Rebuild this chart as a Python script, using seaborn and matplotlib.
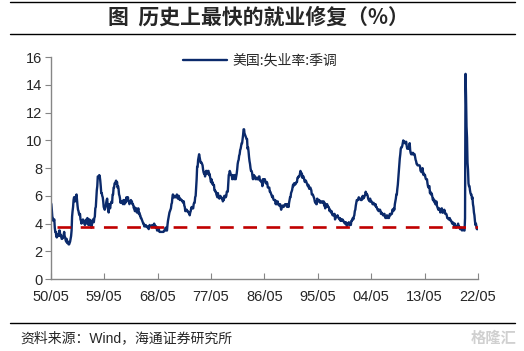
import numpy as np
import pandas as pd
import matplotlib.pyplot as plt
import seaborn as sns
from matplotlib.lines import Line2D

# 美国:失业率:季调 (%), monthly, 1950/05 - 2022/05
u1950s = [5.5, 5.4, 5.0, 4.5, 4.4, 4.2, 4.2, 4.3,
          3.7, 3.4, 3.4, 3.1, 3.0, 3.2, 3.1, 3.1, 3.3, 3.5, 3.5, 3.1,
          3.2, 3.1, 2.9, 2.9, 3.0, 3.0, 3.2, 3.4, 3.1, 3.0, 2.8, 2.7,
          2.9, 2.6, 2.6, 2.7, 2.5, 2.5, 2.6, 2.7, 2.9, 3.1, 3.5, 4.5,
          4.9, 5.2, 5.7, 5.9, 5.9, 5.6, 5.8, 6.0, 6.1, 5.7, 5.3, 5.0,
          4.9, 4.7, 4.6, 4.7, 4.3, 4.2, 4.0, 4.2, 4.1, 4.3, 4.2, 4.2,
          4.0, 3.9, 4.2, 4.0, 4.3, 4.3, 4.4, 4.1, 3.9, 3.9, 4.3, 4.2,
          4.2, 3.9, 3.7, 3.9, 4.1, 4.3, 4.2, 4.1, 4.4, 4.5, 5.1, 5.2,
          5.8, 6.4, 6.7, 7.4, 7.4, 7.3, 7.5, 7.4, 7.1, 6.7, 6.2, 6.2,
          6.0, 5.9, 5.6, 5.2, 5.1, 5.0, 5.1, 5.2, 5.5, 5.7, 5.8, 5.3]
u1960s = [5.2, 4.8, 5.4, 5.2, 5.1, 5.4, 5.5, 5.6, 5.5, 6.1, 6.1, 6.6,
          6.6, 6.9, 6.9, 7.0, 7.1, 6.9, 7.0, 6.6, 6.7, 6.5, 6.1, 6.0,
          5.8, 5.5, 5.6, 5.6, 5.5, 5.5, 5.4, 5.7, 5.6, 5.4, 5.7, 5.5,
          5.7, 5.9, 5.7, 5.7, 5.9, 5.6, 5.6, 5.4, 5.5, 5.5, 5.7, 5.5,
          5.6, 5.4, 5.4, 5.3, 5.1, 5.2, 4.9, 5.0, 5.1, 5.1, 4.8, 5.0,
          4.9, 5.1, 4.7, 4.8, 4.6, 4.6, 4.4, 4.4, 4.3, 4.2, 4.1, 4.0,
          4.0, 3.8, 3.8, 3.8, 3.9, 3.8, 3.8, 3.8, 3.7, 3.7, 3.6, 3.8,
          3.9, 3.8, 3.8, 3.8, 3.8, 3.9, 3.8, 3.8, 3.8, 4.0, 3.9, 3.8,
          3.7, 3.8, 3.7, 3.5, 3.5, 3.7, 3.7, 3.5, 3.4, 3.4, 3.4, 3.4,
          3.4, 3.4, 3.4, 3.4, 3.4, 3.5, 3.5, 3.5, 3.7, 3.7, 3.5, 3.5]
u1970s = [3.9, 4.2, 4.4, 4.6, 4.8, 4.9, 5.0, 5.1, 5.4, 5.5, 5.9, 6.1,
          5.9, 5.9, 6.0, 5.9, 5.9, 5.9, 6.0, 6.1, 6.0, 5.8, 6.0, 6.0,
          5.8, 5.7, 5.8, 5.7, 5.7, 5.7, 5.6, 5.6, 5.5, 5.6, 5.3, 5.2,
          4.9, 5.0, 4.9, 5.0, 4.9, 4.9, 4.8, 4.8, 4.8, 4.6, 4.8, 4.9,
          5.1, 5.2, 5.1, 5.1, 5.1, 5.4, 5.5, 5.5, 5.9, 6.0, 6.6, 7.2,
          8.1, 8.1, 8.6, 8.8, 9.0, 8.8, 8.6, 8.4, 8.4, 8.4, 8.3, 8.2,
          7.9, 7.7, 7.6, 7.7, 7.4, 7.6, 7.8, 7.8, 7.6, 7.7, 7.8, 7.8,
          7.5, 7.6, 7.4, 7.2, 7.0, 7.2, 6.9, 7.0, 6.8, 6.8, 6.8, 6.4,
          6.4, 6.3, 6.3, 6.1, 6.0, 5.9, 6.2, 5.9, 6.0, 5.8, 5.9, 6.0,
          5.9, 5.9, 5.8, 5.8, 5.6, 5.7, 5.7, 6.0, 5.9, 6.0, 5.9, 6.0]
u1980s = [6.3, 6.3, 6.3, 6.9, 7.5, 7.6, 7.8, 7.7, 7.5, 7.5, 7.5, 7.2,
          7.5, 7.4, 7.4, 7.2, 7.5, 7.5, 7.2, 7.4, 7.6, 7.9, 8.3, 8.5,
          8.6, 8.9, 9.0, 9.3, 9.4, 9.6, 9.8, 9.8, 10.1, 10.4, 10.8, 10.8,
          10.4, 10.4, 10.3, 10.2, 10.1, 10.1, 9.4, 9.5, 9.2, 8.8, 8.5, 8.3,
          8.0, 7.8, 7.8, 7.7, 7.4, 7.2, 7.5, 7.5, 7.3, 7.4, 7.2, 7.3,
          7.3, 7.2, 7.2, 7.3, 7.2, 7.4, 7.4, 7.1, 7.1, 7.1, 7.0, 7.0,
          6.7, 7.2, 7.2, 7.1, 7.2, 7.2, 7.0, 6.9, 7.0, 7.0, 6.9, 6.6,
          6.6, 6.6, 6.6, 6.3, 6.3, 6.2, 6.1, 6.0, 5.9, 6.0, 5.8, 5.7,
          5.7, 5.7, 5.7, 5.4, 5.6, 5.4, 5.4, 5.6, 5.4, 5.4, 5.3, 5.3,
          5.4, 5.2, 5.0, 5.2, 5.2, 5.3, 5.2, 5.2, 5.3, 5.3, 5.4, 5.4]
u1990s = [5.4, 5.3, 5.2, 5.4, 5.4, 5.2, 5.5, 5.7, 5.9, 5.9, 6.2, 6.3,
          6.4, 6.6, 6.8, 6.7, 6.9, 6.9, 6.8, 6.9, 6.9, 7.0, 7.0, 7.3,
          7.3, 7.4, 7.4, 7.4, 7.6, 7.8, 7.7, 7.6, 7.6, 7.3, 7.4, 7.4,
          7.3, 7.1, 7.0, 7.1, 7.1, 7.0, 6.9, 6.8, 6.7, 6.8, 6.6, 6.5,
          6.6, 6.6, 6.5, 6.4, 6.1, 6.1, 6.1, 6.0, 5.9, 5.8, 5.6, 5.5,
          5.6, 5.4, 5.4, 5.8, 5.6, 5.6, 5.7, 5.7, 5.6, 5.5, 5.6, 5.6,
          5.6, 5.5, 5.5, 5.6, 5.6, 5.3, 5.5, 5.1, 5.2, 5.2, 5.4, 5.4,
          5.3, 5.2, 5.2, 5.1, 4.9, 5.0, 4.9, 4.8, 4.9, 4.7, 4.6, 4.7,
          4.6, 4.6, 4.7, 4.3, 4.4, 4.5, 4.5, 4.5, 4.6, 4.5, 4.4, 4.4,
          4.3, 4.4, 4.2, 4.3, 4.2, 4.3, 4.3, 4.2, 4.2, 4.1, 4.1, 4.0]
u2000s = [4.0, 4.1, 4.0, 3.8, 4.0, 4.0, 4.0, 4.1, 3.9, 3.9, 3.9, 3.9,
          4.2, 4.2, 4.3, 4.4, 4.3, 4.5, 4.6, 4.9, 5.0, 5.3, 5.5, 5.7,
          5.7, 5.7, 5.7, 5.9, 5.8, 5.8, 5.8, 5.7, 5.7, 5.7, 5.9, 6.0,
          5.8, 5.9, 5.9, 6.0, 6.1, 6.3, 6.2, 6.1, 6.1, 6.0, 5.8, 5.7,
          5.7, 5.6, 5.8, 5.6, 5.6, 5.6, 5.5, 5.4, 5.4, 5.5, 5.4, 5.4,
          5.3, 5.4, 5.2, 5.2, 5.1, 5.0, 5.0, 4.9, 5.0, 5.0, 5.0, 4.9,
          4.7, 4.8, 4.7, 4.7, 4.6, 4.6, 4.7, 4.7, 4.5, 4.4, 4.5, 4.4,
          4.6, 4.5, 4.4, 4.5, 4.4, 4.6, 4.7, 4.6, 4.7, 4.7, 4.7, 5.0,
          5.0, 4.9, 5.1, 5.0, 5.4, 5.6, 5.8, 6.1, 6.1, 6.5, 6.8, 7.3,
          7.8, 8.3, 8.7, 9.0, 9.4, 9.5, 9.5, 9.6, 9.8, 10.0, 9.9, 9.9]
u2010s = [9.8, 9.8, 9.9, 9.9, 9.6, 9.4, 9.4, 9.5, 9.5, 9.4, 9.8, 9.3,
          9.1, 9.0, 9.0, 9.1, 9.0, 9.1, 9.0, 9.0, 9.0, 8.8, 8.6, 8.5,
          8.3, 8.3, 8.2, 8.2, 8.2, 8.2, 8.2, 8.1, 7.8, 7.8, 7.7, 7.9,
          8.0, 7.7, 7.5, 7.6, 7.5, 7.5, 7.3, 7.2, 7.2, 7.2, 6.9, 6.7,
          6.6, 6.7, 6.7, 6.2, 6.3, 6.1, 6.2, 6.1, 5.9, 5.7, 5.8, 5.6,
          5.7, 5.5, 5.4, 5.4, 5.6, 5.3, 5.2, 5.1, 5.0, 5.0, 5.1, 5.0,
          4.8, 4.9, 5.0, 5.1, 4.8, 4.9, 4.8, 4.9, 5.0, 4.9, 4.7, 4.7,
          4.7, 4.6, 4.4, 4.4, 4.4, 4.3, 4.3, 4.4, 4.3, 4.2, 4.2, 4.1,
          4.0, 4.1, 4.0, 4.0, 3.8, 4.0, 3.8, 3.8, 3.7, 3.8, 3.8, 3.9,
          4.0, 3.8, 3.8, 3.7, 3.6, 3.6, 3.7, 3.6, 3.5, 3.6, 3.6, 3.6]
u2020s = [3.5, 3.5, 4.4, 14.8, 13.2, 11.0, 10.2, 8.4, 7.9, 6.9, 6.7, 6.7,
          6.4, 6.2, 6.1, 6.1, 5.8, 5.9, 5.4, 5.2, 4.8, 4.6, 4.2, 3.9,
          4.0, 3.8, 3.6, 3.6, 3.6]

tick_labels = ["50/05", "59/05", "68/05", "77/05", "86/05",
               "95/05", "04/05", "13/05", "22/05"]
level = 3.75  # 红色虚线水平

rate = u1950s + u1960s + u1970s + u1980s + u1990s + u2000s + u2010s + u2020s
df = pd.DataFrame({"idx": np.arange(len(rate)), "rate": rate})
df["ref"] = np.where(df["idx"] >= 12, level, np.nan)

sns.set_style("white")
plt.rcParams["font.family"] = ["Liberation Sans", "Noto Sans CJK SC", "DejaVu Sans"]
cjk = ["Noto Sans CJK SC", "DejaVu Sans"]

fig = plt.figure(figsize=(5.24, 3.51), dpi=100)
ax = fig.add_axes([0.097, 0.205, 0.815, 0.632])

sns.lineplot(data=df, x="idx", y="rate", ax=ax, color="#0b2a6b", lw=1.7,
             label="美国:失业率:季调")
sns.lineplot(data=df, x="idx", y="ref", ax=ax, color="#c00000", lw=1.9,
             dashes=False, legend=False, zorder=3)
ax.lines[-1].set_dashes([5.2, 3.6])

ax.set_xlim(0, len(rate) - 1)
ax.set_ylim(0, 16)
ax.set_yticks(range(0, 17, 2))
ax.set_xticks(np.arange(0, len(rate), 108))
ax.set_xticklabels(tick_labels)
ax.set_xlabel("")
ax.set_ylabel("")
for s in ["top", "right"]:
    ax.spines[s].set_visible(False)
for s in ["left", "bottom"]:
    ax.spines[s].set_color("#868686")
    ax.spines[s].set_linewidth(1)
ax.tick_params(axis="y", direction="out", length=4, color="#868686",
               labelsize=10.5, pad=2, left=True)
ax.tick_params(axis="x", direction="in", length=4, color="#868686",
               labelsize=10.5, pad=8, bottom=True)

leg = ax.legend(loc="center", bbox_to_anchor=(0.49, 0.983), frameon=False,
                handlelength=3.2, handletextpad=0.4, prop={"family": cjk, "size": 10})

fig.text(0.494, 0.952, "图  历史上最快的就业修复（%）", ha="center", va="center",
         fontsize=15, fontweight="bold", family=cjk)
for y in [0.994, 0.903, 0.08]:
    fig.add_artist(Line2D([0.02, 0.983], [y, y], transform=fig.transFigure,
                          color="black", lw=1))
fig.text(0.038, 0.037, "资料来源：Wind，海通证券研究所", ha="left", va="center",
         fontsize=10, family=["Liberation Sans", "Noto Sans CJK SC"])
fig.text(0.985, 0.037, "格隆汇", ha="right", va="center", fontsize=11,
         color="#d0d0d0", fontweight="bold", family=cjk)

fig.savefig("out.png", dpi=100)
